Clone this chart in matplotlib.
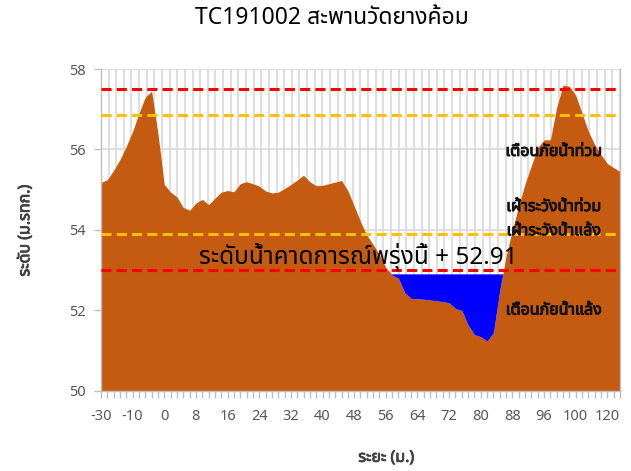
import numpy as np
import matplotlib
matplotlib.use("Agg")
import matplotlib.pyplot as plt
import matplotlib.patheffects as pe

plt.rcParams["font.family"] = ["Noto Sans", "Noto Sans Thai", "Sarabun", "DejaVu Sans"]

# cross-section data (one value per category, labels every 5th)
distance_labels = ["-30", "-10", "0", "8", "16", "24", "32", "40", "48",
                   "56", "64", "72", "80", "88", "96", "100", "120"]
elevation = [55.18, 55.25, 55.48, 55.75, 56.08, 56.45, 56.90, 57.30, 57.45, 56.40,
             55.13, 54.94, 54.82, 54.56, 54.49, 54.67, 54.76, 54.63, 54.79, 54.94,
             54.98, 54.95, 55.15, 55.20, 55.15, 55.09, 54.97, 54.92, 54.94, 55.03,
             55.13, 55.24, 55.36, 55.20, 55.10, 55.11, 55.15, 55.19, 55.23, 54.98,
             54.60, 54.21, 53.87, 53.64, 53.38, 53.07, 52.88, 52.80, 52.44, 52.30,
             52.29, 52.28, 52.26, 52.24, 52.22, 52.19, 52.05, 52.00, 51.64, 51.40,
             51.35, 51.24, 51.45, 52.50, 53.35, 54.00, 54.60, 55.15, 55.60, 56.05,
             56.24, 56.24, 57.05, 57.60, 57.57, 57.35, 56.90, 56.45, 56.12, 55.87,
             55.65, 55.55, 55.45]
water_level = 52.91
flood_warning = 57.5
flood_watch = 56.85
drought_watch = 53.9
drought_warning = 53.0

x = np.arange(len(elevation))
elev = np.array(elevation)

fig, ax = plt.subplots(figsize=(6.31, 4.71), dpi=100)
fig.subplots_adjust(left=0.160, right=0.9826, top=0.8535, bottom=0.1699)

# vertical grid (denser than the labels)
for gx in np.linspace(0, x[-1], 69):
    ax.axvline(gx, color="#D9D9D9", lw=1.2, zorder=0)
ax.yaxis.grid(True, color="#D9D9D9", lw=1.2, zorder=0)
ax.set_axisbelow(True)

ax.fill_between(x, 50, elev, color="#C55A11", lw=0, zorder=2)
ax.fill_between(x, elev, water_level, where=elev < water_level, interpolate=True,
                color="#0000FF", lw=0, zorder=2)

dash = (0, (3.3, 1.7))
ax.axhline(flood_warning, color="#FF0000", lw=2.2, ls=dash, zorder=3)
ax.axhline(flood_watch, color="#FFC000", lw=2.2, ls=dash, zorder=3)
ax.axhline(drought_watch, color="#FFC000", lw=2.2, ls=dash, zorder=3)
ax.axhline(drought_warning, color="#FF0000", lw=2.2, ls=dash, zorder=3)

# fake bold, the Thai face has no bold weight here
bold_fx = [pe.withStroke(linewidth=0.7, foreground="#111111")]
lbl = dict(ha="center", va="center", fontsize=11.5, color="#111111", zorder=4,
           path_effects=bold_fx)
ax.text(71.5, 55.94, "เตือนภัยน้ำท่วม", **lbl)
ax.text(71.5, 54.57, "เฝ้าระวังน้ำท่วม", **lbl)
ax.text(71.5, 53.97, "เฝ้าระวังน้ำแล้ง", **lbl)
ax.text(71.5, 52.0, "เตือนภัยน้ำแล้ง", **lbl)
ax.text(40.7, 53.32, "ระดับน้ำคาดการณ์พรุ่งนี้ + %.2f" % water_level,
        ha="center", va="center", fontsize=17.5, color="#000000", zorder=4)

ax.set_xlim(0, x[-1])
ax.set_ylim(50, 58)
ax.set_yticks([50, 52, 54, 56, 58])
ax.set_xticks(x[::5])
ax.set_xticklabels(distance_labels)
ax.set_xticks(x, minor=True)
ax.tick_params(axis="both", colors="#595959", labelsize=10.5, length=5, width=1)
ax.tick_params(axis="x", which="minor", colors="#BFBFBF", length=5, width=1)
ax.tick_params(axis="x", which="major", colors="#BFBFBF", labelcolor="#595959", pad=8)
ax.tick_params(axis="y", colors="#BFBFBF", labelcolor="#595959", pad=6)

ax.spines["top"].set_visible(False)
for s in ["left", "bottom", "right"]:
    ax.spines[s].set_color("#BFBFBF")
    ax.spines[s].set_linewidth(1)

fig.text(0.526, 0.962, "TC191002 สะพานวัดยางค้อม", ha="center", va="center",
         fontsize=16.5, color="#000000")
axis_fx = [pe.withStroke(linewidth=0.6, foreground="#404040")]
fig.text(0.612, 0.028, "ระยะ (ม.)", ha="center", va="center",
         fontsize=11.5, color="#404040", path_effects=axis_fx)
fig.text(0.040, 0.51, "ระดับ (ม.รทก.)", ha="center", va="center", rotation=90,
         fontsize=11.5, color="#404040", path_effects=axis_fx)

fig.savefig("out.png", dpi=100)
